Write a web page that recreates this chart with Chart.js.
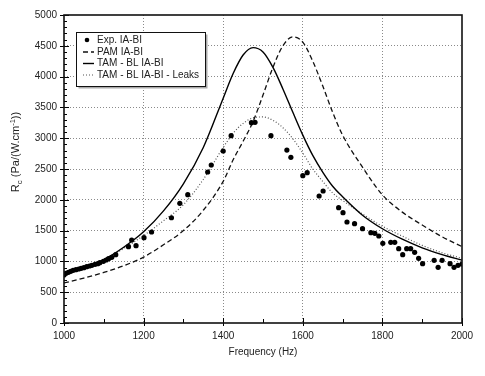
<!DOCTYPE html>
<html>
<head>
<meta charset="utf-8">
<script src="https://cdn.jsdelivr.net/npm/chart.js@4/dist/chart.umd.min.js"></script>
<style>
html,body{margin:0;padding:0;background:#fff;}
#wrap{position:relative;width:485px;height:376px;}
canvas{display:block;}
</style>
</head>
<body>
<div id="wrap"><canvas id="c" width="485" height="376"></canvas></div>
<script>
// ---- data ----
const expFreq = [1000,1005,1011,1017,1023,1030,1037,1043,1050,1057,1064,1070,1078,1085,1090,1099,1106,1112,1120,1130,1162,1170,1181,1201,1220,1270,1291,1311,1361,1370,1400,1420,1471,1480,1520,1560,1570,1600,1611,1641,1651,1690,1701,1711,1730,1750,1771,1781,1791,1801,1821,1831,1841,1851,1861,1871,1881,1891,1901,1930,1940,1950,1970,1980,1990,2000];
const expRc = [779,807,823,839,855,866,877,888,898,914,925,937,953,963,979,1002,1023,1044,1066,1109,1239,1347,1255,1385,1477,1709,1943,2083,2451,2565,2792,3041,3252,3258,3041,2808,2690,2391,2440,2062,2143,1872,1791,1640,1612,1531,1466,1456,1412,1294,1310,1310,1206,1109,1206,1206,1148,1050,963,1018,904,1018,963,904,937,958];

const modelFreq = [1000,1050,1100,1150,1200,1250,1300,1350,1400,1425,1450,1475,1500,1525,1550,1575,1600,1625,1650,1675,1700,1750,1800,1850,1900,1950,2000];
const pamRc  = [650,730,820,930,1070,1270,1500,1830,2300,2650,2950,3270,3700,4150,4500,4645,4560,4250,3850,3420,3050,2530,2080,1800,1590,1400,1240];
const tamRc  = [790,900,1030,1230,1480,1820,2260,2850,3650,4050,4350,4470,4400,4150,3800,3420,3050,2720,2450,2220,2050,1750,1530,1360,1220,1110,1020];
const leakRc = [790,900,1030,1210,1420,1660,1920,2330,2850,3080,3240,3330,3345,3290,3170,2990,2760,2500,2300,2110,1990,1770,1570,1410,1260,1140,1050];

const seriesLabels = ['Exp. IA-BI','PAM IA-BI','TAM - BL IA-BI','TAM - BL IA-BI - Leaks'];
const xTickStep = 200, yTickStep = 500;
const xMinor = 100, yMinor = 100;

const FONT = "'Liberation Sans', Arial, sans-serif";
const toXY = (xs, ys) => xs.map((x,i)=>({x:x, y:ys[i]}));

const framePlugin = {
  id:'frame',
  afterDraw(chart){
    const {ctx, chartArea:a, scales:{x,y}} = chart;
    ctx.save();
    // minor/major ticks inside
    ctx.strokeStyle = '#000'; ctx.lineWidth = 1;
    ctx.beginPath();
    for(let v = x.min; v <= x.max; v += xMinor){
      const px = Math.round(x.getPixelForValue(v)) + 0.5;
      const major = (v % xTickStep) === 0;
      ctx.moveTo(px, a.bottom); ctx.lineTo(px, a.bottom - (major ? 5 : 4));
      if (major) { ctx.moveTo(px, a.bottom); ctx.lineTo(px, a.bottom + 3); }
    }
    for(let v = y.min; v <= y.max; v += yMinor){
      const py = Math.round(y.getPixelForValue(v)) + 0.5;
      const major = (v % yTickStep) === 0;
      ctx.moveTo(a.left, py); ctx.lineTo(a.left + (major ? 5 : 3), py);
      if (major) { ctx.moveTo(a.left, py); ctx.lineTo(a.left - 4, py); }
    }
    ctx.stroke();
    // frame
    ctx.lineWidth = 1.6; ctx.strokeStyle = '#111';
    ctx.strokeRect(a.left, a.top, a.right - a.left, a.bottom - a.top);

    // legend
    const bx = 76.5, by = 32.5, bw = 129, bh = 54;
    ctx.fillStyle = '#aaa';
    ctx.fillRect(bx + 2, by + 2, bw, bh);
    ctx.fillStyle = '#fff';
    ctx.fillRect(bx, by, bw, bh);
    ctx.lineWidth = 1; ctx.strokeStyle = '#111';
    ctx.strokeRect(bx, by, bw, bh);
    const rows = [40, 51.5, 63, 74.5];
    const ds = chart.data.datasets;
    ctx.font = '10px ' + FONT; ctx.fillStyle = '#222'; ctx.textBaseline = 'middle'; ctx.textAlign = 'left';
    rows.forEach((ry, i) => {
      const d = ds[i];
      ctx.save();
      if (i === 0) {
        ctx.fillStyle = '#000';
        ctx.beginPath(); ctx.arc(87, ry, 2.3, 0, Math.PI*2); ctx.fill();
      } else {
        ctx.strokeStyle = d.borderColor; ctx.lineWidth = d.borderWidth;
        ctx.setLineDash(d.borderDash || []);
        ctx.beginPath(); ctx.moveTo(83, ry + 0.5); ctx.lineTo(94, ry + 0.5); ctx.stroke();
      }
      ctx.restore();
      ctx.fillText(d.label, 97, ry + 0.5);
    });

    // y axis title with subscript / superscript
    const parts = [['R', 11, 0], ['c', 8, 3], [' (Pa/(W.cm', 11, 0], ['-1', 7.5, -4], ['))', 11, 0]];
    let total = 0;
    parts.forEach(p => { ctx.font = p[1] + 'px ' + FONT; total += ctx.measureText(p[0]).width; });
    ctx.translate(15, 152);
    ctx.rotate(-Math.PI/2);
    ctx.textBaseline = 'alphabetic'; ctx.fillStyle = '#222';
    let cx = -total/2;
    parts.forEach(p => {
      ctx.font = p[1] + 'px ' + FONT;
      ctx.fillText(p[0], cx, 4 + p[2]);
      cx += ctx.measureText(p[0]).width;
    });
    ctx.restore();
  }
};

new Chart(document.getElementById('c'), {
  type: 'scatter',
  data: {
    datasets: [
      { label: seriesLabels[0], data: toXY(expFreq, expRc), showLine:false,
        pointRadius: 2.6, pointBackgroundColor:'#000', pointBorderColor:'#000', pointBorderWidth:0, order:0 },
      { label: seriesLabels[1], data: toXY(modelFreq, pamRc), showLine:true, pointRadius:0,
        borderColor:'#111', borderWidth:1.3, borderDash:[5,3], cubicInterpolationMode:'monotone', fill:false, order:1 },
      { label: seriesLabels[2], data: toXY(modelFreq, tamRc), showLine:true, pointRadius:0,
        borderColor:'#000', borderWidth:1.4, cubicInterpolationMode:'monotone', fill:false, order:2 },
      { label: seriesLabels[3], data: toXY(modelFreq, leakRc), showLine:true, pointRadius:0,
        borderColor:'#555', borderWidth:1.2, borderDash:[1,2], cubicInterpolationMode:'monotone', fill:false, order:3 }
    ]
  },
  options: {
    responsive:false, animation:false, devicePixelRatio:1,
    layout:{ padding:{ top:15, right:23, left:0, bottom:0 } },
    plugins:{ legend:{display:false}, tooltip:{enabled:false} },
    scales:{
      x:{ type:'linear', min:1000, max:2000,
        afterFit: s => { s.height = 53; },
        ticks:{ stepSize:xTickStep, callback: v => String(v), color:'#222', font:{size:10, family:FONT}, padding:7, maxRotation:0, autoSkip:false },
        grid:{ color: c => (c.tick && (c.tick.value === 1000 || c.tick.value === 2000)) ? 'rgba(0,0,0,0)' : '#8a8a8a', lineWidth:1, drawTicks:false },
        border:{ display:false, dash:[1,2] },
        title:{ display:true, text:'Frequency (Hz)', color:'#222', font:{size:10, family:FONT}, padding:{top:0, bottom:18} }
      },
      y:{ type:'linear', min:0, max:5000,
        afterFit: s => { s.width = 64; },
        ticks:{ stepSize:yTickStep, callback: v => String(v), color:'#222', font:{size:10, family:FONT}, padding:7 },
        grid:{ color: c => (c.tick && (c.tick.value === 0 || c.tick.value === 5000)) ? 'rgba(0,0,0,0)' : '#8a8a8a', lineWidth:1, drawTicks:false },
        border:{ display:false, dash:[1,2] }
      }
    }
  },
  plugins:[framePlugin]
});
</script>
</body>
</html>
